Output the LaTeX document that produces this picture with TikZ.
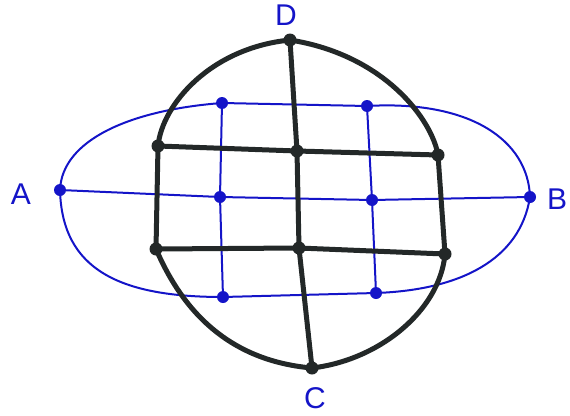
\documentclass[tikz,border=0pt]{standalone}
\usepackage{fontspec}
\setmainfont{Liberation Sans}
\definecolor{blueink}{RGB}{20,20,200}
\definecolor{blackink}{RGB}{35,40,40}
\begin{document}
\begin{tikzpicture}[x=1pt,y=-1pt,
  bline/.style={draw=blueink,line width=2pt,line join=round},
  kline/.style={draw=blackink,line width=5pt,line join=round,line cap=round},
  bdot/.style={circle,fill=blueink,inner sep=0pt,minimum size=12pt},
  kdot/.style={circle,fill=blackink,inner sep=0pt,minimum size=13pt},
  lbl/.style={text=blueink,font=\fontsize{30}{32}\selectfont,inner sep=0pt}]
\useasboundingbox (0,0) rectangle (570,415);
% blue points
\coordinate (A) at (60,190);
\coordinate (B) at (530,197);
\coordinate (b1) at (222,103);
\coordinate (b2) at (367,106);
\coordinate (b3) at (220,197);
\coordinate (b4) at (372,200);
\coordinate (b5) at (223,297);
\coordinate (b6) at (376,293);
% black points
\coordinate (D) at (290,40);
\coordinate (C) at (312,368);
\coordinate (k1) at (158,146);
\coordinate (k2) at (297,151);
\coordinate (k3) at (438,155);
\coordinate (k4) at (156,249);
\coordinate (k5) at (299,248);
\coordinate (k6) at (445,254);
% blue outline
\draw[bline] (A) .. controls (62,140) and (130,110) .. (b1) -- (b2)
  .. controls (470,100) and (528,140) .. (B)
  .. controls (520,260) and (460,290) .. (b6) -- (b5)
  .. controls (120,297) and (62,270) .. (A);
\draw[bline] (A) -- (b3) -- (b4) -- (B);
\draw[bline] (b1) -- (b3) -- (b5);
\draw[bline] (b2) -- (b4) -- (b6);
% black outline
\draw[kline] (D) .. controls (210,48) and (162,105) .. (k1) -- (k4)
  .. controls (178,300) and (220,360) .. (C)
  .. controls (380,360) and (440,310) .. (k6) -- (k3)
  .. controls (432,120) and (385,55) .. (D);
\draw[kline] (k1) -- (k2) -- (k3);
\draw[kline] (k4) -- (k5) -- (k6);
\draw[kline] (D) -- (k2) -- (k5) -- (C);
% dots
\foreach \p in {A,B,b1,b2,b3,b4,b5,b6} \node[bdot] at (\p) {};
\foreach \p in {D,C,k1,k2,k3,k4,k5,k6} \node[kdot] at (\p) {};
% labels
\node[lbl] (lA) at (21,194) {A};
\node[lbl] (lB) at (557,199) {B};
\node[lbl] (lD) at (286,15) {D};
\node[lbl] (lC) at (315,398) {C};
\end{tikzpicture}
\end{document}
